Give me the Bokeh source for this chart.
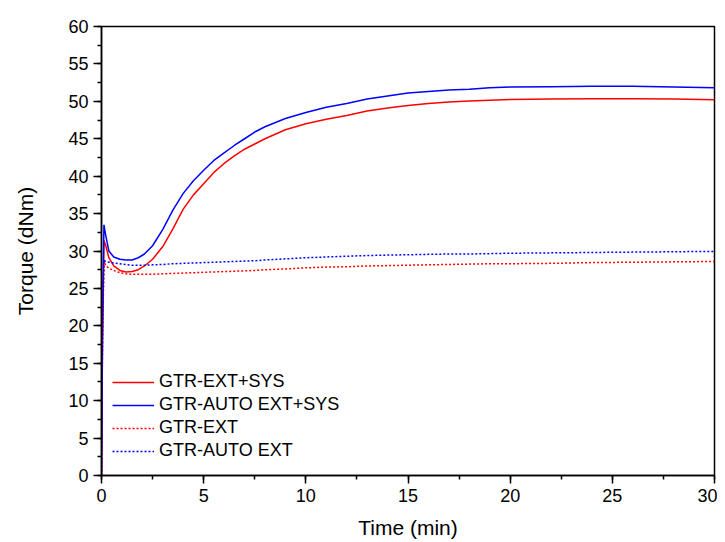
from bokeh.plotting import figure
from bokeh.models import SingleIntervalTicker, Legend, LegendItem, Range1d
from bokeh.embed import file_html
from bokeh.resources import INLINE

# Time (min)
time = [0, 0.05, 0.12, 0.2, 0.36, 0.6, 0.9, 1.2, 1.5, 1.8, 2.1, 2.5, 3.0, 3.5, 4.0, 4.5,
        5.0, 5.5, 6.0, 6.5, 7.0, 7.5, 8.0, 9.0, 10, 11, 12, 13, 14, 15, 16, 17, 18, 19,
        20, 22, 24, 26, 28, 30]

# Torque (dNm)
gtr_ext_sys = [0, 18, 31.4, 30.8, 29.1, 28.0, 27.4, 27.2, 27.25, 27.5, 28.0, 28.9, 30.6,
               33.0, 35.6, 37.5, 39.0, 40.5, 41.7, 42.7, 43.6, 44.3, 45.0, 46.2, 47.0,
               47.6, 48.1, 48.7, 49.1, 49.45, 49.7, 49.9, 50.05, 50.15, 50.25, 50.3,
               50.35, 50.35, 50.3, 50.2]
gtr_auto_ext_sys = [0, 20, 33.5, 32.2, 30.0, 29.2, 28.9, 28.8, 28.8, 29.1, 29.6, 30.7, 32.9,
                    35.5, 37.7, 39.4, 40.8, 42.1, 43.1, 44.1, 45.0, 45.9, 46.6, 47.7, 48.5,
                    49.2, 49.7, 50.3, 50.7, 51.1, 51.3, 51.5, 51.6, 51.8, 51.9, 51.95,
                    52.0, 52.0, 51.9, 51.8]
gtr_ext = [0, 18, 28.6, 28.1, 27.7, 27.4, 27.1, 26.95, 26.9, 26.9, 26.9, 26.9, 26.95, 27.0,
           27.05, 27.1, 27.15, 27.2, 27.25, 27.3, 27.35, 27.4, 27.5, 27.6, 27.75, 27.85,
           27.9, 28.0, 28.05, 28.1, 28.15, 28.2, 28.25, 28.3, 28.3, 28.35, 28.45, 28.5,
           28.55, 28.6]
gtr_auto_ext = [0, 20, 28.8, 28.6, 28.5, 28.4, 28.3, 28.2, 28.1, 28.1, 28.1, 28.15, 28.2,
                28.3, 28.35, 28.4, 28.45, 28.5, 28.55, 28.6, 28.65, 28.7, 28.8, 28.95, 29.1,
                29.2, 29.3, 29.4, 29.45, 29.5, 29.55, 29.6, 29.6, 29.65, 29.7, 29.75, 29.8,
                29.85, 29.9, 29.95]

labels = ["GTR-EXT+SYS", "GTR-AUTO EXT+SYS", "GTR-EXT", "GTR-AUTO EXT"]

FONT = "Liberation Sans"

p = figure(width=717, height=541, output_backend="svg", toolbar_location=None,
           x_range=Range1d(0, 30), y_range=Range1d(0, 60),
           min_border_left=101, min_border_right=3, min_border_top=26, min_border_bottom=10)

r1 = p.line(time, gtr_ext_sys, line_color="#FF0000", line_width=1.5)
r2 = p.line(time, gtr_auto_ext_sys, line_color="#0000FF", line_width=1.5)
r3 = p.line(time, gtr_ext, line_color="#FF0000", line_width=1.5, line_dash="2 2")
r4 = p.line(time, gtr_auto_ext, line_color="#0000FF", line_width=1.5, line_dash="2 2")

p.xgrid.visible = False
p.ygrid.visible = False
p.outline_line_color = "black"
p.outline_line_width = 1.5
p.background_fill_color = "white"
p.border_fill_color = "white"

p.xaxis.ticker = SingleIntervalTicker(interval=5, num_minor_ticks=2)
p.yaxis.ticker = SingleIntervalTicker(interval=5, num_minor_ticks=2)

for ax in (p.xaxis[0], p.yaxis[0]):
    ax.axis_line_color = "black"
    ax.axis_line_width = 1.5
    ax.major_tick_line_color = "black"
    ax.major_tick_line_width = 1.5
    ax.minor_tick_line_color = "black"
    ax.minor_tick_line_width = 1.5
    ax.major_tick_out = 8
    ax.major_tick_in = 0
    ax.minor_tick_out = 4
    ax.minor_tick_in = 0
    ax.major_label_text_font = FONT
    ax.major_label_text_font_size = "18px"
    ax.major_label_text_color = "black"
    ax.major_label_standoff = 5
    ax.axis_label_text_font = FONT
    ax.axis_label_text_font_size = "21px"
    ax.axis_label_text_font_style = "normal"
    ax.axis_label_text_color = "black"

p.xaxis.axis_label = "Time (min)"
p.yaxis.axis_label = "Torque (dNm)"
p.xaxis.axis_label_standoff = 11
p.yaxis.axis_label_standoff = 28

legend = Legend(items=[LegendItem(label=labels[0], renderers=[r1]),
                       LegendItem(label=labels[1], renderers=[r2]),
                       LegendItem(label=labels[2], renderers=[r3]),
                       LegendItem(label=labels[3], renderers=[r4])],
                location=(11, 14))
legend.border_line_color = None
legend.background_fill_alpha = 0
legend.padding = 0
legend.margin = 0
legend.spacing = 2
legend.glyph_width = 42
legend.glyph_height = 20
legend.label_height = 20
legend.label_standoff = 5
legend.label_text_font = FONT
legend.label_text_font_size = "18px"
legend.label_text_color = "black"
p.add_layout(legend, "center")

open("out.html", "w").write(file_html(p, INLINE))
